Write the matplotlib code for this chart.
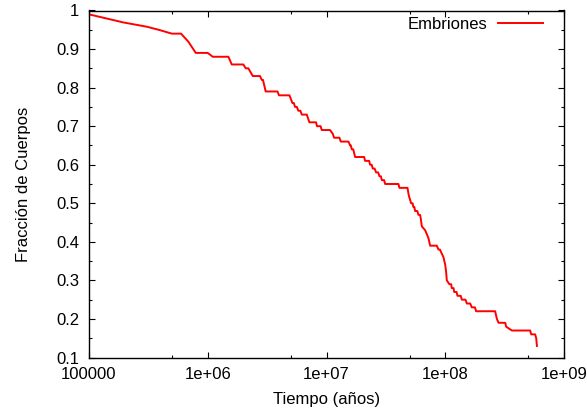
import numpy as np
import matplotlib
matplotlib.use("Agg")
import matplotlib.pyplot as plt
from matplotlib.ticker import FixedLocator

# Datos (exponente log10 del tiempo en anios, fraccion)
log_tiempo = [5.0, 5.29, 5.486, 5.598, 5.697, 5.775, 5.837, 5.899, 6.0, 6.042,
              6.174, 6.202, 6.30, 6.32, 6.342, 6.379, 6.44, 6.455, 6.465, 6.488,
              6.587, 6.60, 6.688, 6.713, 6.725, 6.735, 6.75, 6.763, 6.78, 6.792,
              6.834, 6.856, 6.912, 6.92, 6.95, 6.96, 7.03, 7.053, 7.064, 7.109,
              7.12, 7.185, 7.199, 7.205, 7.213, 7.225, 7.241, 7.317, 7.325, 7.359,
              7.367, 7.38, 7.39, 7.405, 7.418, 7.435, 7.446, 7.458, 7.466, 7.485,
              7.494, 7.606, 7.614, 7.682, 7.693, 7.713, 7.725, 7.732, 7.74, 7.746,
              7.765, 7.774, 7.788, 7.794, 7.803, 7.831, 7.858, 7.873, 7.929, 7.943,
              7.955, 7.985, 8.0, 8.008, 8.013, 8.035, 8.05, 8.055, 8.07, 8.075,
              8.095, 8.103, 8.13, 8.14, 8.17, 8.182, 8.21, 8.224, 8.25, 8.26,
              8.42, 8.435, 8.449, 8.505, 8.513, 8.561, 8.715, 8.724, 8.757, 8.766,
              8.772]
fraccion = [0.99, 0.969, 0.958, 0.949, 0.94, 0.94, 0.919, 0.89, 0.89, 0.88,
            0.88, 0.86, 0.86, 0.85, 0.85, 0.83, 0.83, 0.82, 0.82, 0.79,
            0.79, 0.78, 0.78, 0.76, 0.76, 0.75, 0.75, 0.74, 0.74, 0.73,
            0.73, 0.71, 0.71, 0.70, 0.70, 0.69, 0.69, 0.68, 0.67, 0.67,
            0.66, 0.66, 0.65, 0.65, 0.64, 0.64, 0.62, 0.62, 0.61, 0.61,
            0.60, 0.60, 0.59, 0.59, 0.58, 0.58, 0.57, 0.57, 0.56, 0.56,
            0.55, 0.55, 0.54, 0.54, 0.52, 0.50, 0.50, 0.49, 0.49, 0.48,
            0.48, 0.47, 0.47, 0.46, 0.44, 0.43, 0.41, 0.39, 0.39, 0.38,
            0.38, 0.36, 0.34, 0.32, 0.30, 0.29, 0.29, 0.28, 0.28, 0.27,
            0.27, 0.26, 0.26, 0.25, 0.25, 0.24, 0.24, 0.23, 0.23, 0.22,
            0.22, 0.20, 0.19, 0.19, 0.18, 0.17, 0.17, 0.16, 0.16, 0.15,
            0.13]

xticks = [1e5, 1e6, 1e7, 1e8, 1e9]
xtick_labels = ["100000", "1e+06", "1e+07", "1e+08", "1e+09"]
yticks = [0.1, 0.2, 0.3, 0.4, 0.5, 0.6, 0.7, 0.8, 0.9, 1.0]
ytick_labels = ["0.1", "0.2", "0.3", "0.4", "0.5", "0.6", "0.7", "0.8", "0.9", "1"]

plt.rcParams['font.family'] = ['Liberation Sans', 'DejaVu Sans']
plt.rcParams['font.size'] = 12

tiempo = 10 ** np.array(log_tiempo)

fig = plt.figure(figsize=(5.87, 4.12), dpi=100)
ax = fig.add_axes([89 / 587, 1 - 357.5 / 412, 475 / 587, 347 / 412])

ax.plot(tiempo, fraccion, color="red", lw=1.4, label="Embriones")

ax.set_xscale("log")
ax.set_xlim(1e5, 1e9)
ax.set_ylim(0.1, 1.0)

ax.xaxis.set_major_locator(FixedLocator(xticks))
ax.set_xticklabels(xtick_labels)
ax.xaxis.set_minor_locator(FixedLocator([5e5, 5e6, 5e7, 5e8]))
ax.set_yticks(yticks)
ax.set_yticklabels(ytick_labels)
ax.yaxis.set_minor_locator(FixedLocator(np.arange(0.15, 1.0, 0.1)))

ax.tick_params(which="both", direction="in", top=True, right=True, width=0.8)
ax.tick_params(which="major", length=4.5)
ax.tick_params(which="minor", length=2.5)
ax.tick_params(axis="x", which="major", pad=7)
ax.tick_params(axis="y", which="major", pad=7)
for s in ax.spines.values():
    s.set_linewidth(1.0)

ax.set_xlabel("Tiempo (años)", labelpad=7)
ax.set_ylabel("Fracción de Cuerpos", labelpad=18)

ax.legend(loc="upper right", bbox_to_anchor=(0.963, 0.99), frameon=False,
          markerfirst=False, handlelength=2.7, borderaxespad=0, borderpad=0.2,
          handletextpad=0.66)

fig.savefig("out.png", dpi=100)
